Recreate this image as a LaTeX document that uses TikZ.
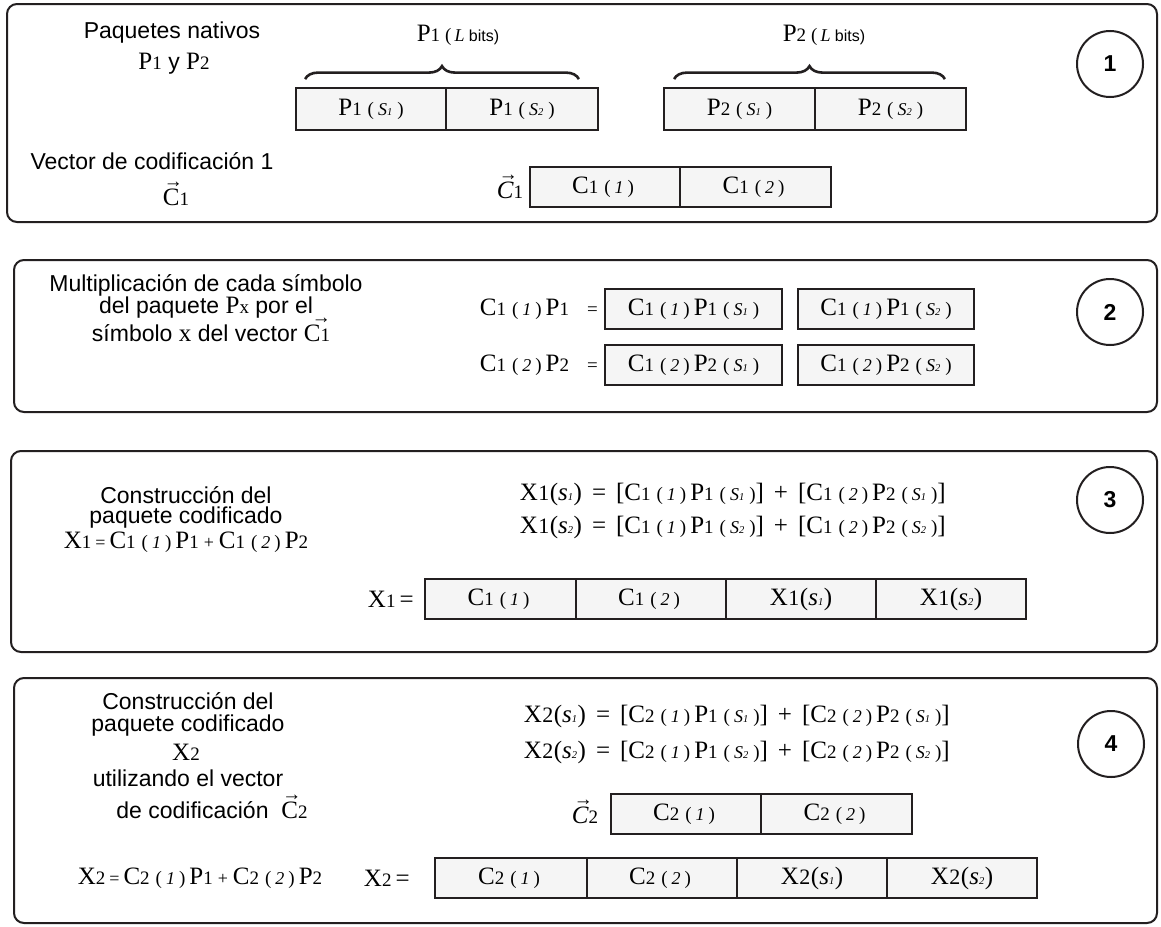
\documentclass[tikz,border=0pt]{standalone}
\usepackage{fontspec}
\setmainfont{Liberation Serif}
\newfontfamily\sansfam{Liberation Sans}
\usetikzlibrary{decorations.pathreplacing}
\definecolor{ink}{HTML}{231F20}
\definecolor{cellgray}{HTML}{F5F5F5}

% type sizes (serif symbols)
\newcommand\fB{\rmfamily\upshape\fontsize{25}{29}\selectfont}
\newcommand\fM{\rmfamily\upshape\fontsize{19}{22}\selectfont}
\newcommand\fX{\rmfamily\upshape\fontsize{22}{25}\selectfont}
\newcommand\fS{\rmfamily\fontsize{18}{21}\selectfont}
\newcommand\fT{\rmfamily\fontsize{10.5}{12}\selectfont}
\newcommand\fSans{\sansfam\fontsize{23}{27}\selectfont}
% symbol with small index: P1, C1 ...
\newcommand\Sy[2]{{\fB #1}{\fM #2}}
% ( i ) with italic index
\newcommand\Ix[1]{{\fM\kern6pt(\kern4pt}{\fS\itshape #1}{\fM\kern4pt)\kern4pt}}
% ( S_k ) segment
\newcommand\Sg[1]{{\fM\kern6pt(\kern4pt}{\fS\itshape S}{\fT\itshape #1}{\fM\kern5pt)}}
% X_k(s_j)
\newcommand\Xs[2]{{\fB X}{\fX\kern0.5pt #1}{\fB\kern0.5pt(}{\fB\itshape s}{\fT\itshape #2}{\fB\kern0.5pt)}}
% coding vector with arrow; the optional argument shifts the arrow sideways
\newcommand\Cvec[3][0pt]{{\fB\rlap{\smash{\raisebox{0.7em}{\fontsize{19}{19}\selectfont\kern#1→}}}#2}{\fM #3}}
% operators with wide spacing
\newcommand\Op[1]{{\fB\hspace{10pt}#1\hspace{10pt}}}
% bracketed sum of products
\newcommand\Sum[2]{\Xs{#1}{#2}\Op{=}{\fB[}\Sy{C}{#1}\Ix{1}\Sy{P}{1}\Sg{#2}{\fB]}\Op{+}{\fB[}\Sy{C}{#1}\Ix{2}\Sy{P}{2}\Sg{#2}{\fB]}}
% packet length label
\newcommand\Plen[1]{\Sy{P}{#1}{\fM\kern5pt(\kern3pt}{\fS\itshape L}{\sansfam\fontsize{16}{16}\selectfont\ bits)}}
% linear combination X_k = C_k(1)P1 + C_k(2)P2
\newcommand\Comb[1]{{\fB X}{\fM #1}{\fS\kern4pt=\kern4pt}\Sy{C}{#1}\Ix{1}\Sy{P}{1}{\fS\kern5pt+\kern5pt}\Sy{C}{#1}\Ix{2}\Sy{P}{2}}

\begin{document}
\begin{tikzpicture}[x=1pt,y=-1pt,
  panel/.style={draw=ink, line width=2pt, rounded corners=10pt},
  cell/.style={draw=ink, fill=cellgray, line width=1.8pt, inner sep=0pt, minimum height=40pt},
  badge/.style={draw=ink, circle, line width=2pt, minimum size=66pt, inner sep=0pt,
    font=\sansfam\bfseries\fontsize{23}{23}\selectfont},
  txt/.style={inner sep=0pt, font=\fSans},
  brace/.style={draw=ink, line width=2.6pt, decorate, decoration={brace, amplitude=13pt}}]
\useasboundingbox (0,0) rectangle (1161,926);
\fill[white] (0,0) rectangle (1161,926);

% ---------- 1: native packets ----------
\draw[panel] (7,4) rectangle (1157,222);
\node[txt] (t1a) at (172,33) {Paquetes nativos};
\node[txt] (t1b) at (174,64) {\Sy{P}{1} y \Sy{P}{2}};
\node[txt] (t1c) at (152,161) {Vector de codificación 1};
\node[txt] (t1d) at (176,197) {\Cvec[1pt]{C}{1}};

\node[cell, minimum width=150pt, minimum height=42pt] (p1s1) at (371,109) {\Sy{P}{1}\Sg{1}};
\node[cell, minimum width=152pt, minimum height=42pt] (p1s2) at (522,109) {\Sy{P}{1}\Sg{2}};
\node[cell, minimum width=151pt, minimum height=42pt] (p2s1) at (739.5,109) {\Sy{P}{2}\Sg{1}};
\node[cell, minimum width=151pt, minimum height=42pt] (p2s2) at (890.5,109) {\Sy{P}{2}\Sg{2}};

\draw[brace] ([shift={(10,-8)}]p1s1.north west) -- ([shift={(-20,-8)}]p1s2.north east);
\draw[brace] ([shift={(11,-8)}]p2s1.north west) -- ([shift={(-22,-8)}]p2s2.north east);
\node[txt] (l1) at (458,35) {\Plen{1}};
\node[txt] (l2) at (824,35) {\Plen{2}};

\node[txt] (v1) at (510,190) {\Cvec[2pt]{\itshape C}{1}};
\node[cell, minimum width=150pt] (c11) at (605,187) {\Sy{C}{1}\Ix{1}};
\node[cell, minimum width=151pt] (c12) at (755.5,187) {\Sy{C}{1}\Ix{2}};

\node[badge] (n1) at (1110,64) {1};

% ---------- 2: symbol-wise multiplication ----------
\draw[panel] (14,260) rectangle (1157,412);
\node[txt] (t2a) at (206,285) {Multiplicación de cada símbolo};
\node[txt] (t2b) at (206,308) {del paquete \Sy{P}{x} por el};
\node[txt] (t2c) at (211,333) {símbolo {\fB x} del vector \Cvec[8pt]{C}{1}};

\node[txt, anchor=east] (m1) at (598,309) {\Sy{C}{1}\Ix{1}\Sy{P}{1}{\fM\hspace{18pt}=}};
\node[txt, anchor=east] (m2) at (598,365) {\Sy{C}{1}\Ix{2}\Sy{P}{2}{\fM\hspace{18pt}=}};
\node[cell, minimum width=177pt] (r1a) at (693.5,309) {\Sy{C}{1}\Ix{1}\Sy{P}{1}\Sg{1}};
\node[cell, minimum width=176pt] (r1b) at (886,309) {\Sy{C}{1}\Ix{1}\Sy{P}{1}\Sg{2}};
\node[cell, minimum width=177pt] (r2a) at (693.5,365) {\Sy{C}{1}\Ix{2}\Sy{P}{2}\Sg{1}};
\node[cell, minimum width=176pt] (r2b) at (886,365) {\Sy{C}{1}\Ix{2}\Sy{P}{2}\Sg{2}};

\node[badge] (n2) at (1110,312) {2};

% ---------- 3: coded packet X1 ----------
\draw[panel] (11,451) rectangle (1157,652);
\node[txt] (t3a) at (186,495) {Construcción del};
\node[txt] (t3b) at (186,518) {paquete codificado};
\node[txt] (t3c) at (186,542) {\Comb{1}};

\node[txt, anchor=east] (f31) at (946,494) {\Sum{1}{1}};
\node[txt, anchor=east] (f32) at (946,527) {\Sum{1}{2}};

\node[txt, anchor=east] (x1l) at (414,599) {{\fB X}{\fM 1}{\fB\,=}};
\node[cell, minimum width=151pt] (x1a) at (500.5,599) {\Sy{C}{1}\Ix{1}};
\node[cell, minimum width=150pt] (x1b) at (651,599) {\Sy{C}{1}\Ix{2}};
\node[cell, minimum width=150pt] (x1c) at (801,599) {\Xs{1}{1}};
\node[cell, minimum width=150pt] (x1d) at (951,599) {\Xs{1}{2}};

\node[badge] (n3) at (1110,500) {3};

% ---------- 4: coded packet X2 ----------
\draw[panel] (14,678) rectangle (1157,923);
\node[txt] (t4a) at (188,701) {Construcción del};
\node[txt] (t4b) at (188,726) {paquete codificado};
\node[txt] (t4c) at (186,752) {{\fB X}{\fM 2}};
\node[txt] (t4d) at (188,778) {utilizando el vector};
\node[txt] (t4e) at (212,810) {de codificación\ \ \Cvec[1pt]{C}{2}};
\node[txt] (t4f) at (200,878) {\Comb{2}};

\node[txt, anchor=east] (f41) at (950,716) {\Sum{2}{1}};
\node[txt, anchor=east] (f42) at (950,752) {\Sum{2}{2}};

\node[txt] (v2) at (585,815) {\Cvec[2pt]{\itshape C}{2}};
\node[cell, minimum width=150pt] (c21) at (686,814) {\Sy{C}{2}\Ix{1}};
\node[cell, minimum width=151pt] (c22) at (836.5,814) {\Sy{C}{2}\Ix{2}};

\node[txt, anchor=east] (x2l) at (410,878) {{\fB X}{\fM 2}{\fB\,=}};
\node[cell, minimum width=152pt] (x2a) at (511,878) {\Sy{C}{2}\Ix{1}};
\node[cell, minimum width=150pt] (x2b) at (662,878) {\Sy{C}{2}\Ix{2}};
\node[cell, minimum width=150pt] (x2c) at (812,878) {\Xs{2}{1}};
\node[cell, minimum width=150pt] (x2d) at (962,878) {\Xs{2}{2}};

\node[badge] (n4) at (1111,744) {4};
\end{tikzpicture}
\end{document}
